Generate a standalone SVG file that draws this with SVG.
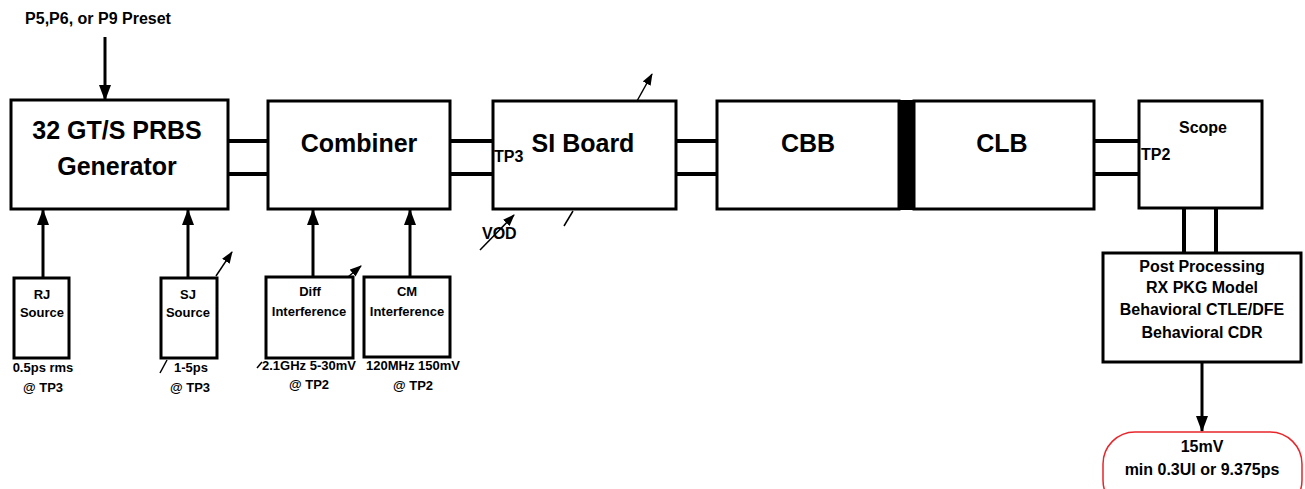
<svg xmlns="http://www.w3.org/2000/svg" width="1305" height="489" viewBox="0 0 1305 489">
<defs>
<style>
.box{fill:#fff;stroke:#000;stroke-width:3}
.sbox{fill:#fff;stroke:#000;stroke-width:3}
.wire{stroke:#000;stroke-width:4;fill:none}
.ln{stroke:#000;stroke-width:3;fill:none}
.thin{stroke:#000;stroke-width:1.5;fill:none}
text{font-family:"Liberation Sans",Arial,sans-serif;font-weight:bold;fill:#000}
.big{font-size:25px;text-anchor:middle}
.mid{font-size:16px;text-anchor:middle}
.sm{font-size:13px;text-anchor:middle}
.tp{font-size:16px}
</style>
<marker id="ah" viewBox="0 0 16 12" refX="15" refY="6" markerWidth="16" markerHeight="12" markerUnits="userSpaceOnUse" orient="auto">
<path d="M0,0 L16,6 L0,12 z" fill="#000"/>
</marker>
<marker id="ahs" viewBox="0 0 12 9" refX="11" refY="4.5" markerWidth="12" markerHeight="9" markerUnits="userSpaceOnUse" orient="auto">
<path d="M0,0 L12,4.5 L0,9 z" fill="#000"/>
</marker>
</defs>
<rect width="1305" height="489" fill="#fff"/>

<g id="connectors">
<line class="ln" x1="105" y1="37" x2="105" y2="100" marker-end="url(#ah)"/>
<line class="wire" x1="228" y1="141" x2="268" y2="141"/>
<line class="wire" x1="228" y1="174" x2="268" y2="174"/>
<line class="wire" x1="450" y1="141" x2="493" y2="141"/>
<line class="wire" x1="450" y1="174" x2="493" y2="174"/>
<line class="wire" x1="676" y1="141" x2="717" y2="141"/>
<line class="wire" x1="676" y1="174" x2="717" y2="174"/>
<line class="wire" x1="1094" y1="141" x2="1139" y2="141"/>
<line class="wire" x1="1094" y1="174" x2="1139" y2="174"/>
<line class="wire" x1="1184" y1="208" x2="1184" y2="253"/>
<line class="wire" x1="1216" y1="208" x2="1216" y2="253"/>
<line class="ln" x1="43" y1="278" x2="43" y2="210" marker-end="url(#ah)"/>
<line class="ln" x1="188" y1="278" x2="188" y2="210" marker-end="url(#ah)"/>
<line class="ln" x1="313" y1="277" x2="313" y2="210" marker-end="url(#ah)"/>
<line class="ln" x1="410" y1="277" x2="410" y2="210" marker-end="url(#ah)"/>
<line class="ln" x1="1202" y1="362" x2="1202" y2="431" marker-end="url(#ah)"/>
<line class="thin" x1="637" y1="101" x2="652" y2="74" marker-end="url(#ahs)"/>
<line class="thin" x1="573" y1="211" x2="564" y2="226"/>
<line class="thin" x1="480" y1="250" x2="514" y2="215" marker-end="url(#ahs)"/>
<line class="thin" x1="216" y1="276" x2="232" y2="252" marker-end="url(#ahs)"/>
<line class="thin" x1="167" y1="360" x2="160" y2="373"/>
<line class="thin" x1="348" y1="277" x2="361" y2="266" marker-end="url(#ahs)"/>
<line class="thin" x1="262" y1="362" x2="257" y2="368"/>
</g>

<text x="98" y="24" style="font-size:16px;text-anchor:middle">P5,P6, or P9 Preset</text>

<g id="generator">
<rect class="box" x="11" y="100" width="217" height="109"/>
<text class="big" x="117" y="139">32 GT/S PRBS</text>
<text class="big" x="117" y="175">Generator</text>
</g>
<g id="combiner">
<rect class="box" x="268" y="101" width="182" height="108"/>
<text class="big" x="359" y="152">Combiner</text>
</g>
<g id="siboard">
<rect class="box" x="493" y="101" width="183" height="108"/>
<text class="big" x="583" y="152">SI Board</text>
<text class="tp" x="494" y="162">TP3</text>
</g>
<text class="tp" x="482" y="239">VOD</text>
<g id="cbb">
<rect class="box" x="717" y="101" width="182" height="108"/>
<text class="big" x="808" y="152">CBB</text>
</g>
<rect x="899" y="100" width="15" height="110" fill="#000"/>
<g id="clb">
<rect class="box" x="914" y="101" width="180" height="108"/>
<text class="big" x="1002" y="152">CLB</text>
</g>
<g id="scope">
<rect class="box" x="1139" y="101" width="123" height="107"/>
<text class="mid" x="1203" y="133">Scope</text>
<text class="tp" x="1141" y="160">TP2</text>
</g>
<g id="postproc">
<rect class="box" x="1103" y="253" width="198" height="109"/>
<text class="mid" x="1202" y="272">Post Processing</text>
<text class="mid" x="1202" y="293">RX PKG Model</text>
<text class="mid" x="1202" y="315">Behavioral CTLE/DFE</text>
<text class="mid" x="1202" y="338">Behavioral CDR</text>
</g>
<g id="result">
<rect x="1103" y="432" width="199" height="80" rx="32" ry="32" fill="#fff" stroke="#e8262a" stroke-width="1.5"/>
<text class="mid" x="1202" y="452">15mV</text>
<text class="mid" x="1202" y="475">min 0.3UI or 9.375ps</text>
</g>
<g id="rj">
<rect class="sbox" x="14" y="278" width="55" height="80"/>
<text class="sm" x="42" y="299">RJ</text>
<text class="sm" x="42" y="317">Source</text>
<text class="sm" x="43" y="372">0.5ps rms</text>
<text class="sm" x="43" y="392">@ TP3</text>
</g>
<g id="sj">
<rect class="sbox" x="161" y="278" width="56" height="80"/>
<text class="sm" x="188" y="299">SJ</text>
<text class="sm" x="188" y="317">Source</text>
<text class="sm" x="191" y="372">1-5ps</text>
<text class="sm" x="190" y="392">@ TP3</text>
</g>
<g id="diff">
<rect class="sbox" x="266" y="277" width="87" height="81"/>
<text class="sm" x="310" y="296">Diff</text>
<text class="sm" x="309" y="316">Interference</text>
<text class="sm" x="309" y="370">2.1GHz 5-30mV</text>
<text class="sm" x="309" y="389">@ TP2</text>
</g>
<g id="cm">
<rect class="sbox" x="364" y="277" width="86" height="80"/>
<text class="sm" x="407" y="296">CM</text>
<text class="sm" x="407" y="316">Interference</text>
<text class="sm" x="413" y="370">120MHz 150mV</text>
<text class="sm" x="413" y="390">@ TP2</text>
</g>
</svg>
